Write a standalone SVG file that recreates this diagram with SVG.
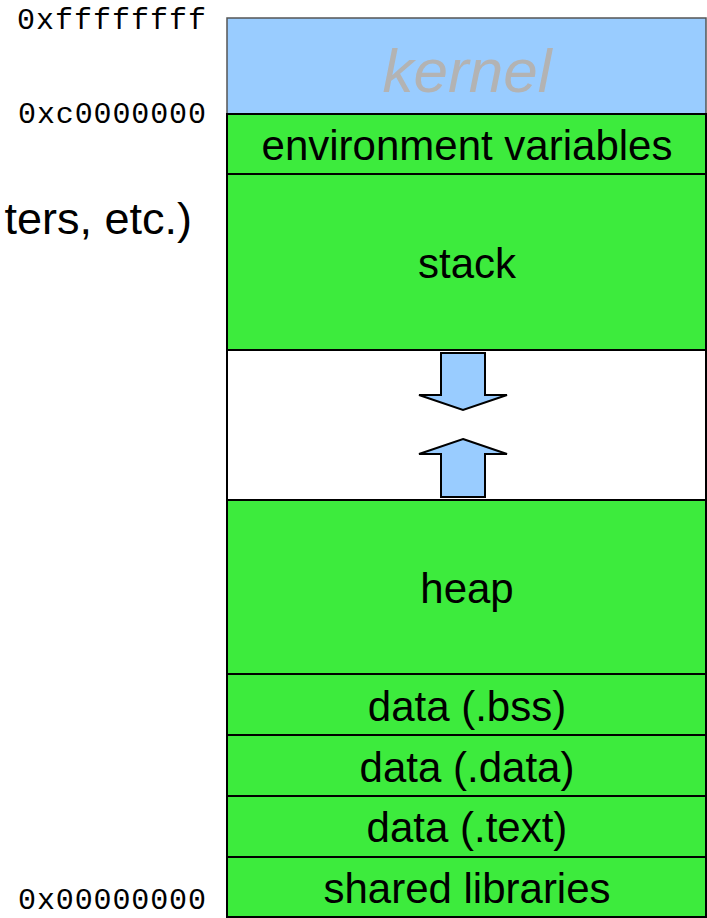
<svg xmlns="http://www.w3.org/2000/svg" width="707" height="918" viewBox="0 0 707 918">
  <style>
    .seg { fill: #3deb3d; stroke: #000; stroke-width: 2; }
    .lbl { font-family: "Liberation Sans", Arial, sans-serif; font-size: 42px; fill: #000; text-anchor: middle; }
    .addr { font-family: "Liberation Mono", "Courier New", monospace; font-size: 30px; fill: #000; }
    .arrow { fill: #99ccff; stroke: #000; stroke-width: 2; stroke-linejoin: miter; }
  </style>
  <rect x="0" y="0" width="707" height="918" fill="#fff"/>

  <g id="addr-labels">
    <text class="addr" x="17" y="29" textLength="189" lengthAdjust="spacing">0xffffffff</text>
    <text class="addr" x="18" y="123" textLength="188" lengthAdjust="spacing">0xc0000000</text>
    <text class="addr" x="18" y="909" textLength="188" lengthAdjust="spacing">0x00000000</text>
  </g>

  <g id="side-text">
    <text x="192" y="234" font-family="'Liberation Sans', Arial, sans-serif" font-size="45" text-anchor="end" fill="#000">ters, etc.)</text>
  </g>

  <g id="kernel">
    <rect x="227" y="18" width="479" height="96" fill="#99ccff" stroke="#555" stroke-width="1.5"/>
    <text x="467" y="92" font-family="'Liberation Sans', Arial, sans-serif" font-size="62" font-style="italic" fill="#b3b3b3" text-anchor="middle">kernel</text>
  </g>

  <g id="env">
    <rect class="seg" x="227" y="114" width="479" height="60"/>
    <text class="lbl" x="467" y="160">environment variables</text>
  </g>

  <g id="stack">
    <rect class="seg" x="227" y="174" width="479" height="176"/>
    <text class="lbl" x="467" y="278">stack</text>
  </g>

  <g id="gap">
    <rect x="227" y="350" width="479" height="150" fill="#fff" stroke="#000" stroke-width="2"/>
  </g>

  <g id="heap">
    <rect class="seg" x="227" y="500" width="479" height="174"/>
    <text class="lbl" x="467" y="603">heap</text>
  </g>

  <g id="bss">
    <rect class="seg" x="227" y="674" width="479" height="61"/>
    <text class="lbl" x="467" y="721">data (.bss)</text>
  </g>

  <g id="data">
    <rect class="seg" x="227" y="735" width="479" height="61"/>
    <text class="lbl" x="467" y="782">data (.data)</text>
  </g>

  <g id="text">
    <rect class="seg" x="227" y="796" width="479" height="61"/>
    <text class="lbl" x="467" y="842">data (.text)</text>
  </g>

  <g id="shared">
    <rect class="seg" x="227" y="857" width="479" height="60"/>
    <text class="lbl" x="467" y="903">shared libraries</text>
  </g>

  <g id="connectors">
    <path class="arrow" d="M441,353 L485,353 L485,395 L507,395 L463,410 L419,395 L441,395 Z"/>
    <path class="arrow" d="M463,439 L507,454 L485,454 L485,497 L441,497 L441,454 L419,454 Z"/>
  </g>
</svg>
